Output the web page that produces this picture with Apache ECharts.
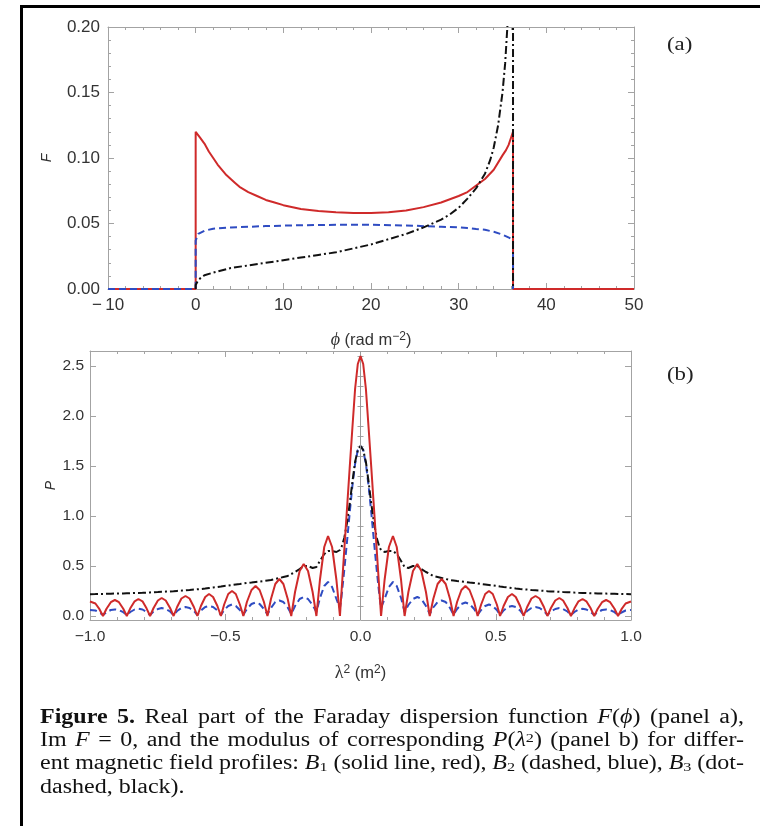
<!DOCTYPE html>
<html><head><meta charset="utf-8">
<script src="https://cdn.jsdelivr.net/npm/echarts@6/dist/echarts.min.js"></script>
<style>html,body{margin:0;padding:0;background:#fff}#c{width:760px;height:826px}</style>
</head><body><div id="c"></div>
<script>
// ---------- Panel (a): F(phi) ----------
const phiRed = [-10, 0, 0, 0.5, 1, 1.5, 2, 2.5, 3, 3.5, 4, 4.5, 5, 6, 7, 8, 9, 10, 12, 14, 16, 18, 20, 22, 24, 26, 28, 30, 31, 32, 33, 34, 35, 35.4, 35.7, 36.0, 36.2, 36.2, 50];
const fRed   = [0, 0, 0.12, 0.1155, 0.111, 0.105, 0.100, 0.095, 0.091, 0.087, 0.084, 0.081, 0.078, 0.074, 0.071, 0.068, 0.066, 0.064, 0.061, 0.0595, 0.0585, 0.058, 0.058, 0.0585, 0.060, 0.0625, 0.066, 0.071, 0.074, 0.079, 0.084, 0.091, 0.102, 0.106, 0.110, 0.116, 0.12, 0, 0];
const phiBlue = [-10, 0, 0, 0.3, 1, 2, 4, 8, 12, 16, 20, 24, 28, 30, 31, 32, 33, 34, 35, 35.8, 36.2, 36.2];
const fBlue   = [0, 0, 0.037, 0.042, 0.0445, 0.046, 0.047, 0.048, 0.0487, 0.049, 0.049, 0.0485, 0.0475, 0.047, 0.0465, 0.0458, 0.0452, 0.0437, 0.0415, 0.039, 0.037, 0];
const phiBlack = [0, 0, 0.3, 1, 2, 4, 6, 8, 10, 12, 14, 16, 18, 20, 22, 24, 26, 28, 29, 30, 31, 32, 33, 33.6, 34, 34.5, 35, 35.3, 35.6, 35.9, 36.2, 36.2];
const fBlack   = [0, 0.003, 0.007, 0.0105, 0.0125, 0.016, 0.018, 0.020, 0.022, 0.024, 0.026, 0.028, 0.031, 0.034, 0.038, 0.042, 0.047, 0.053, 0.057, 0.062, 0.069, 0.077, 0.088, 0.0985, 0.108, 0.125, 0.150, 0.172, 0.205, 0.26, 0.34, 0];

// ---------- Panel (b): |P(lambda^2)| ----------
const lam2 = [
-1.0, -0.98, -0.965, -0.952,
-0.939, -0.923, -0.908, -0.893, -0.877, -0.864,
-0.851, -0.835, -0.821, -0.806, -0.791, -0.778,
-0.765, -0.749, -0.735, -0.72, -0.704, -0.691,
-0.678, -0.662, -0.647, -0.632, -0.616, -0.603,
-0.59, -0.574, -0.56, -0.545, -0.529, -0.516,
-0.504, -0.489, -0.475, -0.461, -0.446, -0.433,
-0.42, -0.403, -0.388, -0.373, -0.357, -0.344,
-0.331, -0.315, -0.3, -0.285, -0.269, -0.256,
-0.242, -0.225, -0.21, -0.194, -0.177, -0.163,
-0.15, -0.134, -0.12, -0.105, -0.089, -0.076,
-0.07, -0.06, -0.05, -0.04, -0.03, -0.02, -0.01,
0,
0.01, 0.02, 0.03, 0.04, 0.05, 0.06, 0.07, 0.076,
0.089, 0.105, 0.12, 0.134, 0.15, 0.163,
0.177, 0.194, 0.21, 0.225, 0.242, 0.256,
0.269, 0.285, 0.3, 0.315, 0.331, 0.344,
0.357, 0.373, 0.388, 0.403, 0.42, 0.433,
0.446, 0.461, 0.475, 0.489, 0.504, 0.516,
0.529, 0.545, 0.56, 0.574, 0.59, 0.603,
0.616, 0.632, 0.647, 0.662, 0.678, 0.691,
0.704, 0.72, 0.735, 0.749, 0.765, 0.778,
0.791, 0.806, 0.821, 0.835, 0.851, 0.864,
0.877, 0.893, 0.908, 0.923, 0.939, 0.952,
0.965, 0.98, 1.0];
const pRed = [
0.145, 0.125, 0.068, 0,
0.072, 0.138, 0.16, 0.138, 0.072, 0,
0.077, 0.147, 0.17, 0.147, 0.077, 0,
0.08, 0.155, 0.18, 0.155, 0.08, 0,
0.09, 0.175, 0.2, 0.175, 0.09, 0,
0.1, 0.19, 0.22, 0.19, 0.1, 0,
0.115, 0.22, 0.25, 0.22, 0.115, 0,
0.14, 0.26, 0.3, 0.26, 0.14, 0,
0.17, 0.32, 0.37, 0.32, 0.17, 0,
0.24, 0.45, 0.52, 0.45, 0.24, 0,
0.36, 0.69, 0.8, 0.69, 0.36, 0,
0.25, 0.66, 1.07, 1.48, 1.88, 2.27, 2.52,
2.6,
2.52, 2.27, 1.88, 1.48, 1.07, 0.66, 0.25, 0,
0.36, 0.69, 0.8, 0.69, 0.36, 0,
0.24, 0.45, 0.52, 0.45, 0.24, 0,
0.17, 0.32, 0.37, 0.32, 0.17, 0,
0.14, 0.26, 0.3, 0.26, 0.14, 0,
0.115, 0.22, 0.25, 0.22, 0.115, 0,
0.1, 0.19, 0.22, 0.19, 0.1, 0,
0.09, 0.175, 0.2, 0.175, 0.09, 0,
0.08, 0.155, 0.18, 0.155, 0.08, 0,
0.077, 0.147, 0.17, 0.147, 0.077, 0,
0.072, 0.138, 0.16, 0.138, 0.072, 0,
0.068, 0.125, 0.145];
const pBlue = [
0.06, 0.055, 0.035, 0.01,
0.038, 0.06, 0.066, 0.06, 0.038, 0.01,
0.04, 0.065, 0.072, 0.065, 0.04, 0.01,
0.045, 0.07, 0.08, 0.07, 0.045, 0.01,
0.05, 0.08, 0.09, 0.08, 0.05, 0.01,
0.055, 0.09, 0.1, 0.09, 0.055, 0.01,
0.06, 0.1, 0.115, 0.1, 0.06, 0.012,
0.07, 0.12, 0.135, 0.12, 0.07, 0.015,
0.08, 0.14, 0.155, 0.14, 0.085, 0.02,
0.1, 0.17, 0.19, 0.17, 0.11, 0.04,
0.18, 0.3, 0.34, 0.29, 0.17, 0.08,
0.2, 0.46, 0.74, 1.03, 1.3, 1.52, 1.66,
1.7,
1.66, 1.52, 1.3, 1.03, 0.74, 0.46, 0.2, 0.08,
0.17, 0.29, 0.34, 0.3, 0.18, 0.04,
0.11, 0.17, 0.19, 0.17, 0.1, 0.02,
0.085, 0.14, 0.155, 0.14, 0.08, 0.015,
0.07, 0.12, 0.135, 0.12, 0.07, 0.012,
0.06, 0.1, 0.115, 0.1, 0.06, 0.01,
0.055, 0.09, 0.1, 0.09, 0.055, 0.01,
0.05, 0.08, 0.09, 0.08, 0.05, 0.01,
0.045, 0.07, 0.08, 0.07, 0.045, 0.01,
0.04, 0.065, 0.072, 0.065, 0.04, 0.01,
0.038, 0.06, 0.066, 0.06, 0.038, 0.01,
0.035, 0.055, 0.06];
const pBlack = [
0.218, 0.219, 0.22, 0.221,
0.222, 0.223, 0.224, 0.225, 0.226, 0.227,
0.228, 0.23, 0.231, 0.232, 0.234, 0.236,
0.238, 0.24, 0.242, 0.244, 0.246, 0.248,
0.251, 0.254, 0.257, 0.26, 0.264, 0.267,
0.27, 0.275, 0.28, 0.285, 0.29, 0.295,
0.3, 0.305, 0.31, 0.315, 0.32, 0.325,
0.33, 0.335, 0.34, 0.345, 0.35, 0.355,
0.36, 0.37, 0.38, 0.39, 0.4, 0.42,
0.44, 0.47, 0.5, 0.5, 0.48, 0.49,
0.55, 0.62, 0.65, 0.65, 0.64, 0.66,
0.69, 0.78, 0.93, 1.12, 1.34, 1.54, 1.66,
1.7,
1.66, 1.54, 1.34, 1.12, 0.93, 0.78, 0.69, 0.66,
0.64, 0.65, 0.65, 0.62, 0.55, 0.49,
0.48, 0.5, 0.5, 0.47, 0.44, 0.42,
0.4, 0.39, 0.38, 0.37, 0.36, 0.355,
0.35, 0.345, 0.34, 0.335, 0.33, 0.325,
0.32, 0.315, 0.31, 0.305, 0.3, 0.295,
0.29, 0.285, 0.28, 0.275, 0.27, 0.267,
0.264, 0.26, 0.257, 0.254, 0.251, 0.248,
0.246, 0.244, 0.242, 0.24, 0.238, 0.236,
0.234, 0.232, 0.231, 0.23, 0.228, 0.227,
0.226, 0.225, 0.224, 0.223, 0.222, 0.221,
0.22, 0.219, 0.218];

// ---------- Ticks ----------
const phiRange = [-10, 50], phiStep = 10;
const fRange = [0, 0.2], fStep = 0.05;
const lamRange = [-1, 1], lamStep = 0.5;
const pRange = [-0.04, 2.65];
const pTicks = [0, 0.5, 1.0, 1.5, 2.0, 2.5];
const pMinorTicks = [0.1, 0.2, 0.3, 0.4, 0.6, 0.7, 0.8, 0.9, 1.1, 1.2, 1.3, 1.4, 1.6, 1.7, 1.8, 1.9, 2.1, 2.2, 2.3, 2.4, 2.6];

// ---------- Styles ----------
const SANS = '"Liberation Sans", Arial, Helvetica, sans-serif';
const SERIF = '"Liberation Serif", "Times New Roman", serif';
const FRAME = '#a3a3a3';
const TXT = '#333';
const RED = '#cf2a2a', BLUE = '#2f4cc2', BLACK = '#111';
const LBL_A = {fontFamily: SANS, fontSize: 17, color: TXT};
const LBL_B = {fontFamily: SANS, fontSize: 15.5, color: TXT};
const fmtMinus = (s) => s.replace('-', '\u2212');

function frameAxis(extra) {
  return Object.assign({
    type: 'value',
    axisLine: {show: true, onZero: false, lineStyle: {color: FRAME, width: 1}},
    axisTick: {show: true, inside: true, length: 6, lineStyle: {color: FRAME, width: 1}},
    minorTick: {show: true, splitNumber: 5, length: 3, lineStyle: {color: FRAME, width: 1}},
    splitLine: {show: false},
    minorSplitLine: {show: false},
    nameMoveOverlap: false
  }, extra);
}
const noLabel = {show: false};

const xAxes = [
  frameAxis({gridIndex: 0, position: 'bottom', min: phiRange[0], max: phiRange[1], interval: phiStep,
    axisLabel: Object.assign({margin: 8, formatter: v => fmtMinus(String(v)).replace('\u2212', '\u2212\u2009')}, LBL_A),
    name: '{p|\u03d5} (rad m{sup|\u22122})', nameLocation: 'middle', nameGap: 42,
    nameTextStyle: {fontFamily: SANS, fontSize: 16.5, color: TXT,
      rich: {p: {fontFamily: SERIF, fontStyle: 'italic', fontSize: 18, color: TXT},
             sup: {fontFamily: SANS, fontSize: 12, lineHeight: 12, verticalAlign: 'top', color: TXT}}}}),
  frameAxis({gridIndex: 0, position: 'top', min: phiRange[0], max: phiRange[1], interval: phiStep, axisLabel: noLabel}),
  frameAxis({gridIndex: 1, position: 'bottom', min: lamRange[0], max: lamRange[1], interval: lamStep,
    axisLabel: Object.assign({margin: 9, formatter: v => fmtMinus(v.toFixed(1))}, LBL_B),
    name: '{l|\u03bb}{sup|2} (m{sup|2})', nameLocation: 'middle', nameGap: 44,
    nameTextStyle: {fontFamily: SANS, fontSize: 16.5, color: TXT,
      rich: {l: {fontFamily: SERIF, fontSize: 18, color: TXT},
             sup: {fontFamily: SANS, fontSize: 12, lineHeight: 12, verticalAlign: 'top', color: TXT}}}}),
  frameAxis({gridIndex: 1, position: 'top', min: lamRange[0], max: lamRange[1], interval: lamStep, axisLabel: noLabel})
];

const yAxes = [
  frameAxis({gridIndex: 0, position: 'left', min: fRange[0], max: fRange[1], interval: fStep,
    axisLabel: Object.assign({margin: 8, formatter: v => v.toFixed(2)}, LBL_A),
    name: 'F', nameLocation: 'middle', nameGap: 54,
    nameTextStyle: {fontFamily: SANS, fontStyle: 'italic', fontSize: 14, color: TXT}}),
  frameAxis({gridIndex: 0, position: 'right', min: fRange[0], max: fRange[1], interval: fStep, axisLabel: noLabel}),
  frameAxis({gridIndex: 1, position: 'left', min: pRange[0], max: pRange[1],
    axisLabel: Object.assign({margin: 6, customValues: pTicks, formatter: v => v.toFixed(1)}, LBL_B),
    axisTick: {show: true, inside: true, length: 6, customValues: pTicks, lineStyle: {color: FRAME, width: 1}},
    minorTick: {show: false},
    name: 'P', nameLocation: 'middle', nameGap: 32,
    nameTextStyle: {fontFamily: SANS, fontStyle: 'italic', fontSize: 14, color: TXT}}),
  frameAxis({gridIndex: 1, position: 'left', min: pRange[0], max: pRange[1], axisLine: {show: false},
    axisLabel: {show: false, customValues: pMinorTicks},
    axisTick: {show: true, inside: true, length: 3, customValues: pMinorTicks, lineStyle: {color: FRAME, width: 1}},
    minorTick: {show: false}}),
  frameAxis({gridIndex: 1, position: 'right', min: pRange[0], max: pRange[1],
    axisLabel: {show: false, customValues: pTicks},
    axisTick: {show: true, inside: true, length: 6, customValues: pTicks, lineStyle: {color: FRAME, width: 1}},
    minorTick: {show: false}}),
  frameAxis({gridIndex: 1, position: 'right', min: pRange[0], max: pRange[1], axisLine: {show: false},
    axisLabel: {show: false, customValues: pMinorTicks},
    axisTick: {show: true, inside: true, length: 3, customValues: pMinorTicks, lineStyle: {color: FRAME, width: 1}},
    minorTick: {show: false}})
];

function lineSeries(name, xi, yi, xs, ys, color, type, z) {
  return {
    type: 'line', name, xAxisIndex: xi, yAxisIndex: yi,
    data: xs.map((x, i) => [x, ys[i]]),
    symbol: 'none', showSymbol: false, clip: true, animation: false, z,
    lineStyle: {color, width: 2, type}
  };
}

const series = [
  lineSeries('B1 (a)', 0, 0, phiRed, fRed, RED, 'solid', 3),
  lineSeries('B2 (a)', 0, 0, phiBlue, fBlue, BLUE, [7, 4], 4),
  lineSeries('B3 (a)', 0, 0, phiBlack, fBlack, BLACK, [8, 3, 2, 3], 5),
  {type: 'line', xAxisIndex: 2, yAxisIndex: 2, data: [], z: 1, silent: true,
   markLine: {silent: true, symbol: 'none', animation: false, label: {show: false},
     lineStyle: {color: '#9a9a9a', width: 1, type: 'solid'}, data: [{xAxis: 0}]}},
  lineSeries('B2 (b)', 2, 2, lam2, pBlue, BLUE, [7, 4], 3),
  lineSeries('B3 (b)', 2, 2, lam2, pBlack, BLACK, [8, 3, 2, 3], 4),
  lineSeries('B1 (b)', 2, 2, lam2, pRed, RED, 'solid', 5)
];

// ---------- Caption (justified lines, horizontally stretched like the scan) ----------
const CS = 20;
const SX = 1.2;
const CAPFONT = CS + 'px ' + SERIF;
const baseRich = {
  b: {fontFamily: SERIF, fontSize: CS, fontWeight: 'bold', color: '#111'},
  i: {fontFamily: SERIF, fontSize: CS, fontStyle: 'italic', color: '#111'},
  sup: {fontFamily: SERIF, fontSize: 13.5, lineHeight: 14, verticalAlign: 'top', color: '#111'},
  sub: {fontFamily: SERIF, fontSize: 13.5, lineHeight: 15, verticalAlign: 'bottom', color: '#111'}
};
const capLines = [
  {y: 718, justify: true, words: ['{b|Figure}', '{b|5.}', 'Real', 'part', 'of', 'the', 'Faraday', 'dispersion', 'function', '{i|F}({i|\u03d5})', '(panel', 'a),']},
  {y: 741, justify: true, words: ['Im', '{i|F}', '=', '0,', 'and', 'the', 'modulus', 'of', 'corresponding', '{i|P}({i|\u03bb}{sup|2})', '(panel', 'b)', 'for', 'differ-']},
  {y: 764, justify: true, words: ['ent', 'magnetic', 'field', 'profiles:', '{i|B}{sub|1}', '(solid', 'line,', 'red),', '{i|B}{sub|2}', '(dashed,', 'blue),', '{i|B}{sub|3}', '(dot-']},
  {y: 788, justify: false, words: ['dashed,', 'black).']}
];
const CAP_X = 40, CAP_W = 704;
function measure(txt) {
  try {
    const t = new echarts.graphic.Text({style: {text: txt, rich: baseRich, font: CAPFONT}});
    return t.getBoundingRect().width;
  } catch (e) { return txt.length * 8; }
}
const capGraphics = capLines.map(line => {
  let gap = CS * 0.25;
  if (line.justify) {
    const sum = line.words.reduce((a, w) => a + measure(w), 0);
    const g = (CAP_W / SX - sum) / (line.words.length - 1);
    if (isFinite(g) && g > 2) gap = g;
  }
  const rich = Object.assign({}, baseRich, {s: {fontFamily: SERIF, fontSize: CS, width: gap}});
  return {
    type: 'text', x: CAP_X, y: line.y, scaleX: SX, silent: true,
    style: {text: line.words.join('{s| }'), rich, font: CAPFONT, fill: '#111',
            align: 'left', textAlign: 'left', verticalAlign: 'middle', textVerticalAlign: 'middle'}
  };
});

const graphics = [
  {type: 'rect', shape: {x: 20, y: 5, width: 3, height: 821}, style: {fill: '#000'}, silent: true},
  {type: 'rect', shape: {x: 20, y: 5, width: 740, height: 3}, style: {fill: '#000'}, silent: true},
  {type: 'text', x: 667, y: 45, scaleX: SX, silent: true,
   style: {text: '(a)', font: '19px ' + SERIF, fill: '#222', align: 'left', textAlign: 'left', verticalAlign: 'middle', textVerticalAlign: 'middle'}},
  {type: 'text', x: 667, y: 375, scaleX: SX, silent: true,
   style: {text: '(b)', font: '19px ' + SERIF, fill: '#222', align: 'left', textAlign: 'left', verticalAlign: 'middle', textVerticalAlign: 'middle'}}
].concat(capGraphics);

const chart = echarts.init(document.getElementById('c'), null, {renderer: 'canvas', width: 760, height: 826});
chart.setOption({
  backgroundColor: '#fff',
  animation: false,
  grid: [
    {left: 108, top: 27, width: 526, height: 262, containLabel: false, outerBoundsMode: 'none'},
    {left: 90, top: 351, width: 541, height: 269, containLabel: false, outerBoundsMode: 'none'}
  ],
  xAxis: xAxes,
  yAxis: yAxes,
  series,
  graphic: graphics
});
</script>
</body></html>
